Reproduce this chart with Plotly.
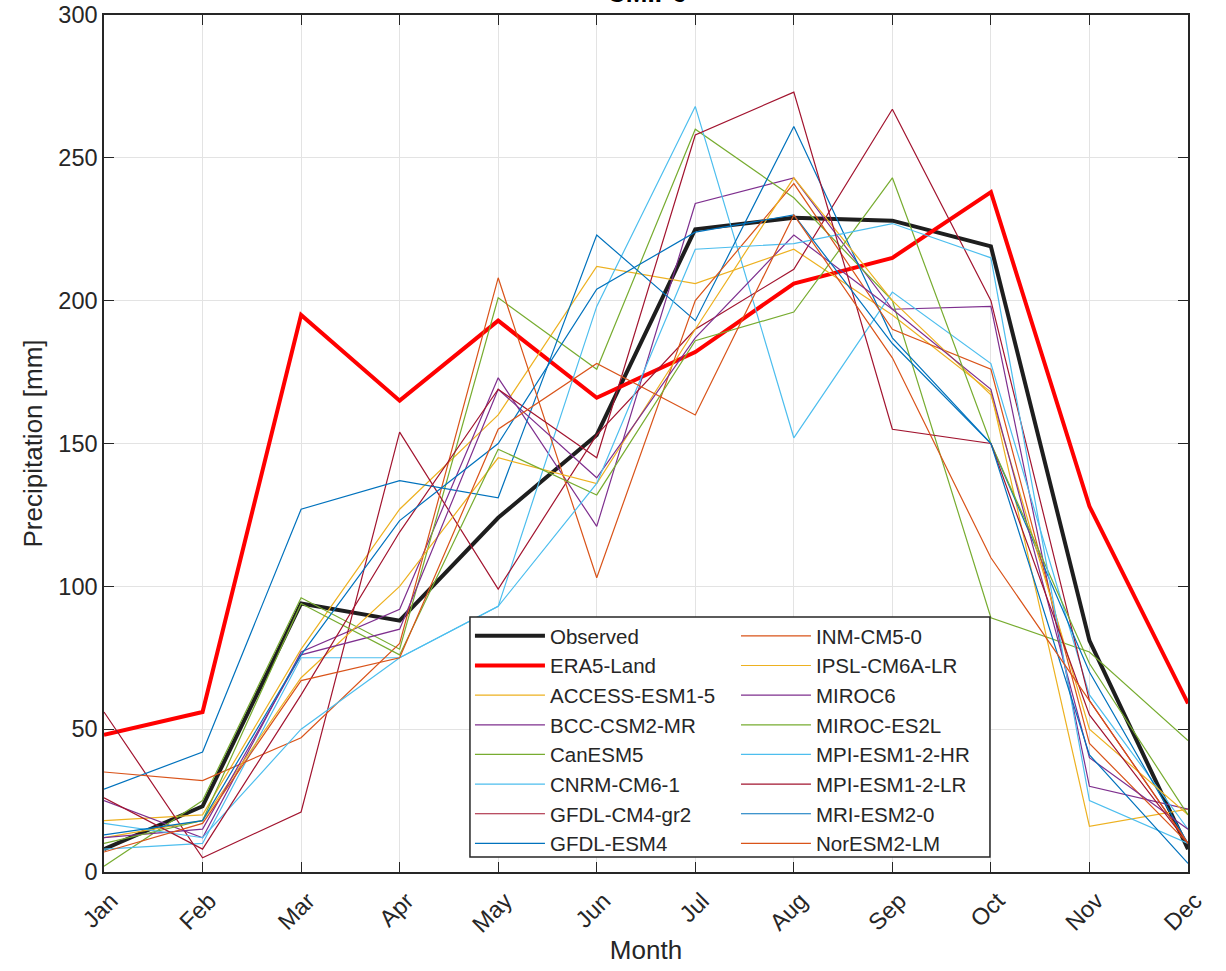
import plotly.graph_objects as go

months = ["Jan", "Feb", "Mar", "Apr", "May", "Jun", "Jul", "Aug", "Sep", "Oct", "Nov", "Dec"]

observed = [8, 23, 94, 88, 124, 153, 225, 229, 228, 219, 81, 8]
era5_land = [48, 56, 195, 165, 193, 166, 182, 206, 215, 238, 128, 59]

access_esm1_5 = [18, 20, 78, 127, 160, 212, 206, 218, 195, 168, 16, 22]
bcc_csm2_mr = [25, 12, 77, 92, 173, 121, 234, 243, 197, 198, 30, 22]
canesm5 = [2, 25, 96, 78, 201, 176, 260, 236, 200, 89, 77, 46]
cnrm_cm6_1 = [8, 10, 75, 75, 93, 198, 268, 152, 203, 178, 62, 15]
gfdl_cm4_gr2 = [56, 5, 21, 154, 99, 153, 190, 211, 267, 200, 60, 10]
gfdl_esm4 = [29, 42, 127, 137, 131, 223, 193, 261, 187, 150, 70, 10]
inm_cm5_0 = [35, 32, 47, 80, 208, 103, 200, 241, 190, 176, 45, 10]
ipsl_cm6a_lr = [12, 18, 68, 100, 145, 136, 190, 243, 200, 167, 50, 20]
miroc6 = [12, 15, 76, 85, 169, 138, 187, 223, 197, 169, 40, 15]
miroc_es2l = [10, 18, 94, 76, 148, 132, 186, 196, 243, 150, 73, 20]
mpi_esm1_2_hr = [17, 12, 50, 75, 93, 136, 218, 220, 227, 215, 25, 10]
mpi_esm1_2_lr = [26, 8, 62, 119, 169, 145, 258, 273, 155, 150, 55, 10]
mri_esm2_0 = [13, 18, 76, 123, 150, 204, 224, 230, 185, 150, 41, 3]
noresm2_lm = [7, 17, 67, 75, 155, 178, 160, 230, 180, 110, 60, 10]

model_names = ["ACCESS-ESM1-5", "BCC-CSM2-MR", "CanESM5", "CNRM-CM6-1", "GFDL-CM4-gr2",
               "GFDL-ESM4", "INM-CM5-0", "IPSL-CM6A-LR", "MIROC6", "MIROC-ES2L",
               "MPI-ESM1-2-HR", "MPI-ESM1-2-LR", "MRI-ESM2-0", "NorESM2-LM"]
model_values = [access_esm1_5, bcc_csm2_mr, canesm5, cnrm_cm6_1, gfdl_cm4_gr2,
                gfdl_esm4, inm_cm5_0, ipsl_cm6a_lr, miroc6, miroc_es2l,
                mpi_esm1_2_hr, mpi_esm1_2_lr, mri_esm2_0, noresm2_lm]

palette = ["#EDB120", "#7E2F8E", "#77AC30", "#4DBEEE", "#A2142F", "#0072BD", "#D95319"]

fig = go.Figure()

# legend in two columns: first 8 entries in "legend", the rest in "legend2"
fig.add_trace(go.Scatter(x=months, y=observed, mode="lines", name="Observed",
                         line=dict(color="#1e1e1e", width=4), legend="legend"))
fig.add_trace(go.Scatter(x=months, y=era5_land, mode="lines", name="ERA5-Land",
                         line=dict(color="#FF0000", width=4), legend="legend"))
for k, (nm, vals) in enumerate(zip(model_names, model_values)):
    fig.add_trace(go.Scatter(x=months, y=vals, mode="lines", name=nm,
                             line=dict(color=palette[k % 7], width=1.2),
                             legend="legend" if k + 2 < 8 else "legend2"))

leg_common = dict(orientation="v", xanchor="left", yanchor="top", itemwidth=70,
                  borderwidth=0, bgcolor="rgba(0,0,0,0)",
                  font=dict(size=20.5, color="#262626"), traceorder="normal",
                  itemclick=False, tracegroupgap=0)

fig.update_layout(
    width=1226, height=971,
    margin=dict(l=104, r=38, t=15, b=99, autoexpand=False),
    paper_bgcolor="white", plot_bgcolor="white",
    font=dict(family="Liberation Sans, Arial, sans-serif", size=23.5, color="#262626"),
    showlegend=True,
    legend=dict(x=0.3376, y=0.2987, **leg_common),
    legend2=dict(x=0.583, y=0.2987, **leg_common),
    shapes=[dict(type="rect", xref="paper", yref="paper", x0=0.3376, x1=0.8173,
                 y0=0.0175, y1=0.2975, line=dict(color="#262626", width=1.5),
                 fillcolor="white", layer="above")],
    annotations=[dict(text="<b>CMIP6</b>", x=0.5, y=1.0, xref="paper", yref="paper",
                      xanchor="center", yanchor="bottom", yshift=5, showarrow=False,
                      font=dict(size=26, color="#000000"))],
)

fig.update_xaxes(
    type="category", range=[0, 11], title=dict(text="Month", font=dict(size=26), standoff=4),
    tickangle=-45, ticks="inside", ticklen=10, tickcolor="#262626", automargin=False,
    showline=True, linecolor="#262626", linewidth=1.5, mirror="ticks",
    showgrid=True, gridcolor="#e3e3e3", gridwidth=1, zeroline=False,
    tickfont=dict(size=23.5), ticklabeloverflow="allow",
    ticklabelshift=7, ticklabelstandoff=4,
)
fig.update_yaxes(
    range=[0, 300], dtick=50, title=dict(text="Precipitation [mm]", font=dict(size=26), standoff=8),
    ticks="inside", ticklen=10, tickcolor="#262626", automargin=False,
    showline=True, linecolor="#262626", linewidth=1.5, mirror="ticks",
    showgrid=True, gridcolor="#e3e3e3", gridwidth=1, zeroline=False,
    tickfont=dict(size=23.5), ticklabeloverflow="allow",
)

fig.write_html("out.html", config={"displayModeBar": False},
               post_script="document.body.style.margin='0';")
